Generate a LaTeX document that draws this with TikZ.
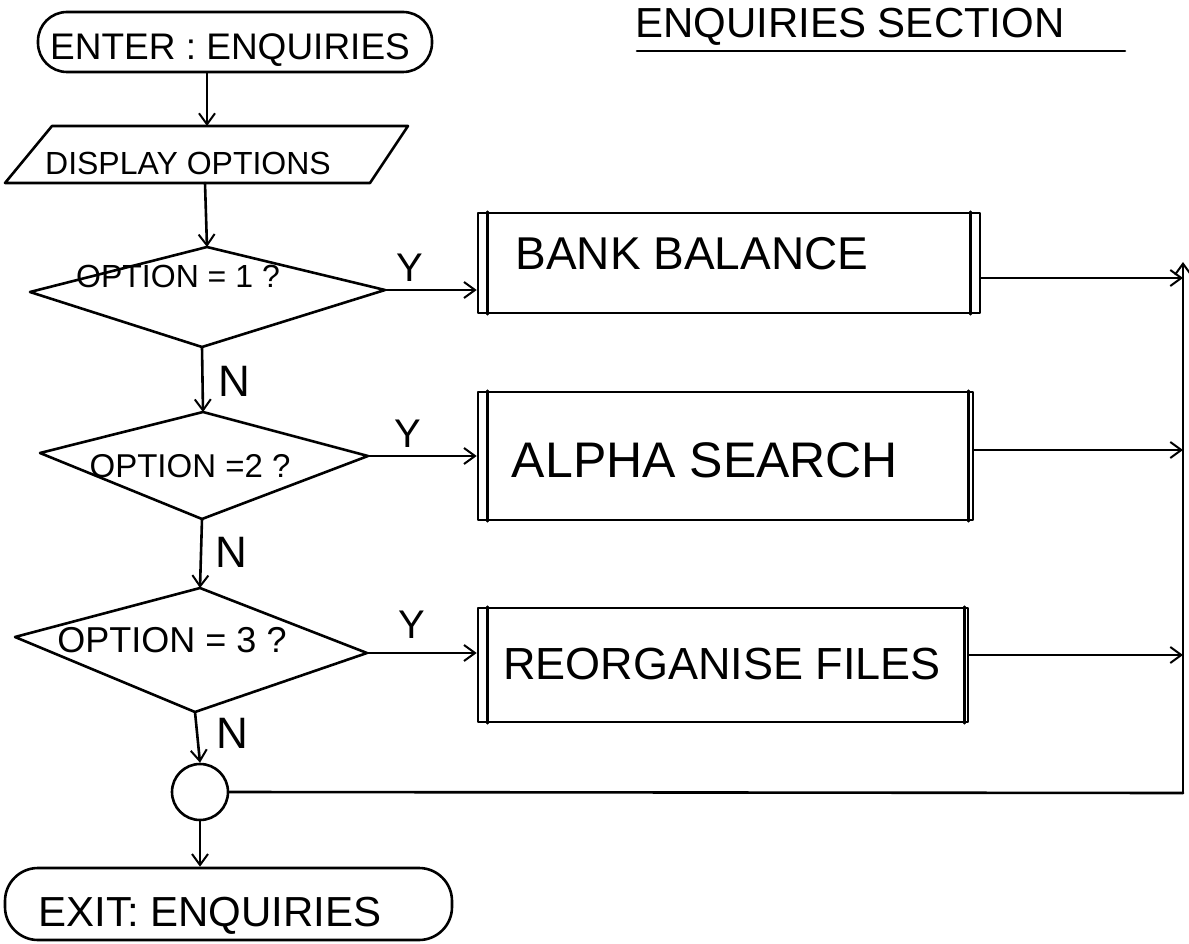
\documentclass[tikz,border=0pt]{standalone}
\usepackage{fontspec}
\setmainfont{Liberation Sans}
\usetikzlibrary{arrows.meta}
\newcommand\hsz[1]{\fontsize{#1}{#1}\selectfont}
\begin{document}
\begin{tikzpicture}[x=1pt,y=-1pt,
  line width=2.6pt, line cap=round, line join=round,
  arr/.style={-{Straight Barb[length=11pt,width=16pt,line width=2pt]}},
  txt/.style={inner sep=0pt, anchor=center},
  term/.style={draw, inner sep=0pt},
  proc/.style={draw, inner sep=0pt},
]
\useasboundingbox (0,0) rectangle (1189,944);

% title
\node[txt] (title) at (850,27) {\hsz{42}ENQUIRIES SECTION};
\draw (637,51) -- (1125,51);

% start terminal
\node[term, rounded corners=29pt, minimum width=394pt, minimum height=60pt] (enter) at (235,42) {};
\node[txt] (entert) at (230,50) {\hsz{37}ENTER : ENQUIRIES};

% display (parallelogram)
\draw (52,126) -- (408,126) -- (370,183) -- (5,183) -- cycle;
\coordinate (dispT) at (207,126);
\coordinate (dispB) at (205,183);
\node[txt] (disp) at (188,163) {\hsz{32}DISPLAY OPTIONS};

% decisions
\coordinate (d1T) at (207,247); \coordinate (d1R) at (385,290);
\coordinate (d1B) at (202,347); \coordinate (d1L) at (30,292);
\draw (d1T) -- (d1R) -- (d1B) -- (d1L) -- cycle;
\node[txt] (o1) at (178,276) {\hsz{32}OPTION = 1 ?};

\coordinate (d2T) at (203,412); \coordinate (d2R) at (368,456);
\coordinate (d2B) at (202,519); \coordinate (d2L) at (40,453);
\draw (d2T) -- (d2R) -- (d2B) -- (d2L) -- cycle;
\node[txt] (o2) at (190,466) {\hsz{33}OPTION =2 ?};

\coordinate (d3T) at (200,588); \coordinate (d3R) at (367,653);
\coordinate (d3B) at (195,712); \coordinate (d3L) at (15,637);
\draw (d3T) -- (d3R) -- (d3B) -- (d3L) -- cycle;
\node[txt] (o3) at (172,640) {\hsz{36}OPTION = 3 ?};

% processes
\node[proc, minimum width=502pt, minimum height=100pt] (bank) at (729,263) {};
\draw ([xshift=11pt]bank.north west) -- ([xshift=11pt]bank.south west);
\draw ([xshift=-11pt]bank.north east) -- ([xshift=-11pt]bank.south east);
\node[txt] (bankt) at (692,254) {\hsz{46}BANK BALANCE};

\node[proc, minimum width=495pt, minimum height=128pt] (alpha) at (725.5,456) {};
\draw ([xshift=11pt]alpha.north west) -- ([xshift=11pt]alpha.south west);
\draw ([xshift=-6pt]alpha.north east) -- ([xshift=-6pt]alpha.south east);
\node[txt] (alphat) at (705,460) {\hsz{50}ALPHA SEARCH};

\node[proc, minimum width=490pt, minimum height=114pt] (reorg) at (723,665) {};
\draw ([xshift=11pt]reorg.north west) -- ([xshift=11pt]reorg.south west);
\draw ([xshift=-5pt]reorg.north east) -- ([xshift=-5pt]reorg.south east);
\node[txt] (reorgt) at (722,664) {\hsz{45}REORGANISE FILES};

% connector and end terminal
\node[draw, circle, minimum size=56pt, inner sep=0pt] (conn) at (200,792) {};
\node[term, rounded corners=33pt, minimum width=447pt, minimum height=72pt] (exit) at (228.5,904) {};
\node[txt] (exitt) at (210,916) {\hsz{42}EXIT: ENQUIRIES};

% right-hand collector line
\coordinate (v1) at (1183,278);
\coordinate (v2) at (1183,450);
\coordinate (v3) at (1183,655);
\coordinate (vb) at (1183,793);
\coordinate (vtop) at (1183,262);

% flow lines
\draw[arr] (enter.south -| dispT) -- (dispT);
\draw[arr] (dispB) -- (d1T);
\draw[arr] (d1B) -- (d2T);
\draw[arr] (d2B) -- (d3T);
\draw[arr] (d3B) -- (conn.north);
\draw[arr] (conn.south) -- (conn.south |- exit.north);

\draw[arr] (d1R) -- (d1R -| bank.west);
\draw[arr] (d2R) -- (d2R -| alpha.west);
\draw[arr] (d3R) -- (d3R -| reorg.west);

\draw[arr] (bank.east |- v1) -- (v1);
\draw[arr] (alpha.east |- v2) -- (v2);
\draw[arr] (reorg.east |- v3) -- (v3);
\draw (conn.east) -- (vb);
\draw[arr] (vb) -- (vtop);

% branch labels
\node[txt] (y1) at (410,268) {\hsz{40}Y};
\node[txt] (y2) at (408,434) {\hsz{40}Y};
\node[txt] (y3) at (412,625) {\hsz{40}Y};
\node[txt] (n1) at (234,381) {\hsz{44}N};
\node[txt] (n2) at (231,552) {\hsz{44}N};
\node[txt] (n3) at (232,733) {\hsz{44}N};
\end{tikzpicture}
\end{document}
